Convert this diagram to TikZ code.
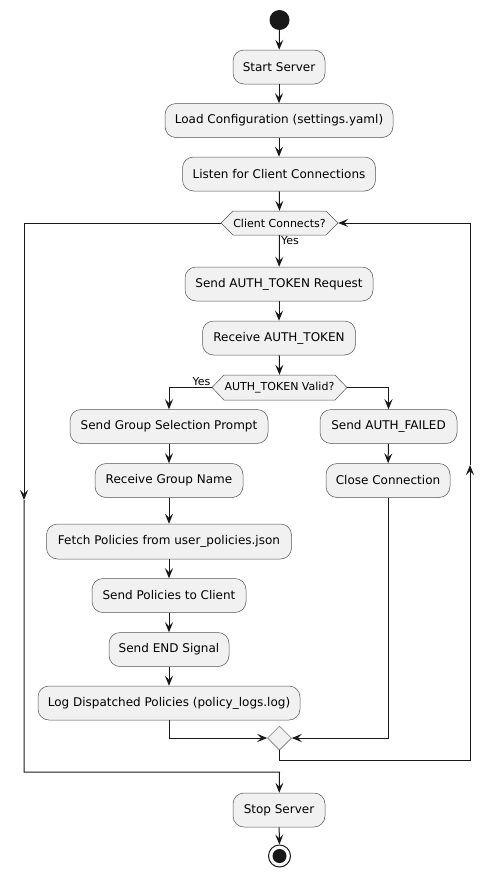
\documentclass[tikz,border=0pt]{standalone}
\usepackage{fontspec}
\setmainfont{DejaVu Sans}
\usetikzlibrary{arrows.meta,shapes.geometric}
\definecolor{bd}{HTML}{181818}
\definecolor{bg}{HTML}{F1F1F1}
\begin{document}
\begin{tikzpicture}[x=1pt,y=-1pt,
  act/.style={draw=bd!75, fill=bg, line width=0.5pt, rounded corners=11pt,
    minimum height=34pt, inner sep=0pt, font=\fontsize{12}{14}\selectfont},
  hex/.style={draw=bd!75, fill=bg, line width=0.5pt},
  hexlbl/.style={inner sep=0pt, font=\fontsize{11}{13}\selectfont},
  lbl/.style={inner sep=1pt, font=\fontsize{11}{13}\selectfont},
  arr/.style={draw=bd, line width=1pt, -{Stealth[length=10pt,width=8pt,inset=4pt]}},
  ln/.style={draw=bd, line width=1pt}]
\useasboundingbox (0,0) rectangle (495,878);

\node[circle, fill=bd, minimum size=20pt, inner sep=0pt] (start) at (279.5,20) {};
\node[act, minimum width=92pt] (s1) at (279,67) {Start Server};
\node[act, minimum width=228pt] (load) at (279,120.5) {Load Configuration (settings.yaml)};
\node[act, minimum width=193pt] (listen) at (279,174) {Listen for Client Connections};

\path[hex] (221,223) -- (233,211) -- (326,211) -- (338,223) -- (326,235) -- (233,235) -- cycle;
\node[hexlbl, minimum width=117pt, minimum height=24pt] (cc) at (279.5,223) {Client Connects?};

\node[act, minimum width=188pt] (tok) at (279,284) {Send AUTH\_TOKEN Request};
\node[act, minimum width=153pt] (rec) at (279,338) {Receive AUTH\_TOKEN};

\path[hex] (212,387.5) -- (224,375) -- (335,375) -- (347,387.5) -- (335,400) -- (224,400) -- cycle;
\node[hexlbl, minimum width=135pt, minimum height=25pt] (valid) at (279.5,387.5) {AUTH\_TOKEN Valid?};

\node[act, minimum width=198pt] (grp) at (169,426.5) {Send Group Selection Prompt};
\node[act, minimum width=148pt] (rgn) at (169,480.5) {Receive Group Name};
\node[act, minimum width=245pt, minimum height=35pt] (fetch) at (169,541.5) {Fetch Policies from user\_policies.json};
\node[act, minimum width=154pt] (spc) at (169,595.5) {Send Policies to Client};
\node[act, minimum width=120pt] (send) at (169,649.5) {Send END Signal};
\node[act, minimum width=262pt] (log) at (169,703) {Log Dispatched Policies (policy\_logs.log)};

\node[act, minimum width=137pt] (fail) at (388.5,426.5) {Send AUTH\_FAILED};
\node[act, minimum width=124pt] (close) at (388,480.5) {Close Connection};

\node[diamond, draw=bd!75, fill=bg, line width=0.5pt, minimum size=24pt, inner sep=0pt, aspect=1] (merge) at (279.5,738) {};

\node[act, minimum width=92pt] (stop) at (279,810) {Stop Server};
\node[circle, draw=bd, line width=1pt, fill=white, minimum size=22pt, inner sep=0pt] (endc) at (279.5,856) {};
\node[circle, fill=bd, minimum size=14pt, inner sep=0pt] (endin) at (endc) {};

\coordinate (lm) at (24,500);
\coordinate (jb) at (279.5,772);
\coordinate (rb) at (470,760);
\coordinate (rm) at (470,465);

\draw[arr] (start) -- (s1);
\draw[arr] (s1) -- (load);
\draw[arr] (load) -- (listen);
\draw[arr] (listen) -- (cc.north);
\draw[arr] (cc.south) -- node[lbl, pos=0, anchor=north west] {Yes} (tok);
\draw[arr] (tok) -- (rec);
\draw[arr] (rec) -- (valid.north);
\draw[arr] (valid.west) -- node[lbl, pos=0, anchor=south east] {Yes} ++(0,0) -| (grp);
\draw[arr] (valid.east) -| (fail);
\draw[arr] (grp) -- (rgn);
\draw[arr] (rgn) -- (fetch);
\draw[arr] (fetch) -- (spc);
\draw[arr] (spc) -- (send);
\draw[arr] (send) -- (log);
\draw[arr] (fail) -- (close);
\draw[arr] (log.south) |- (merge.west);
\draw[arr] (close.south) |- (merge.east);
\draw[arr] (merge.south) |- (rb) -- (rm);
\draw[arr] (rm) |- (cc.east);
\draw[arr] (cc.west) -| (lm);
\draw[arr] (lm) |- (jb) -- (stop);
\draw[arr] (stop) -- (endc);
\end{tikzpicture}
\end{document}
